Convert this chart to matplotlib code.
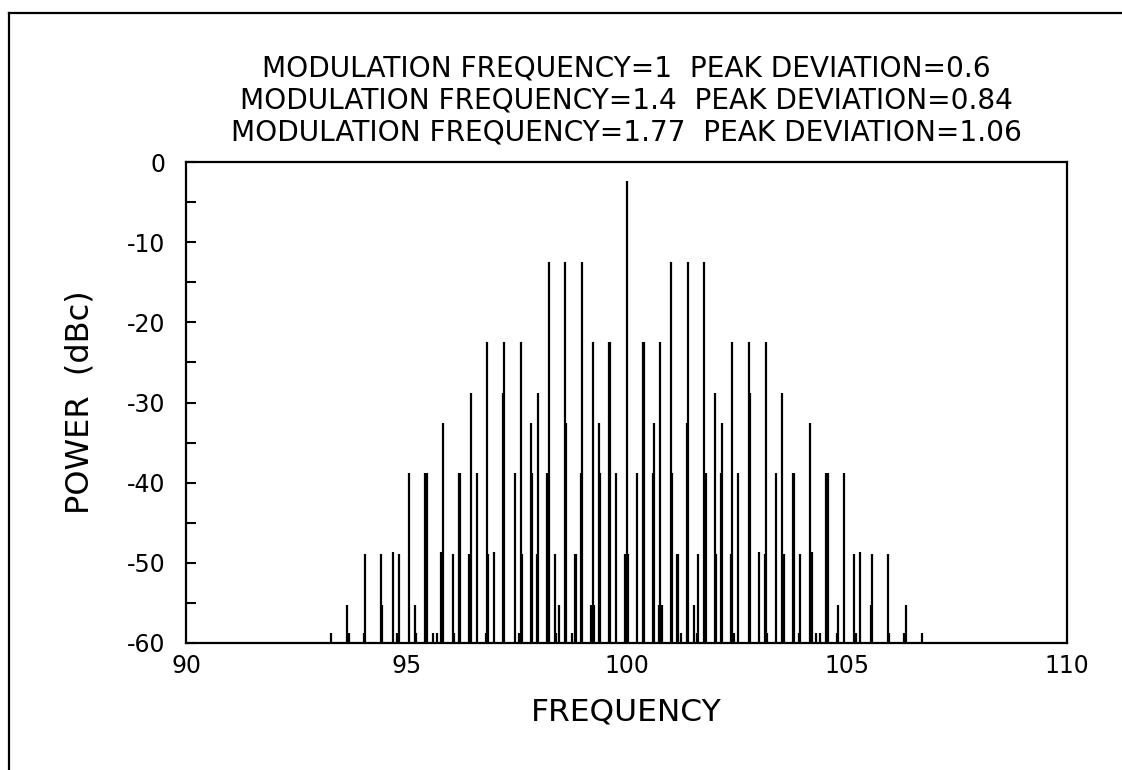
import matplotlib
matplotlib.use("Agg")
import matplotlib.pyplot as plt
from matplotlib.lines import Line2D
from matplotlib.ticker import MultipleLocator

# ---- data: spectral line frequencies grouped by their power level (dBc) ----
level_carrier = -2.4
freq_carrier = [100.0]

level_1 = -12.45
freq_1 = [98.23, 98.6, 99.0, 101.0, 101.4, 101.77]

level_2 = -22.5
freq_2 = [96.83, 97.23, 97.6, 99.23, 99.6, 99.63,
          100.37, 100.4, 100.77, 102.4, 102.77, 103.17]

level_3 = -28.8
freq_3 = [96.46, 97.2, 98.0, 102.0, 102.8, 103.54]

level_4 = -32.55
freq_4 = [95.83, 97.83, 98.63, 99.37, 100.63, 101.37, 102.17, 104.17]

level_5 = -38.85
freq_5 = [95.06, 95.43, 95.46, 96.2, 96.23, 96.6, 97.46, 97.86, 98.2, 98.97,
          99.4, 99.77, 100.23, 100.6, 101.03, 101.8, 102.14, 102.54, 103.4,
          103.77, 103.8, 104.54, 104.57, 104.94]

level_6 = -48.65
freq_6 = [94.69, 95.8, 97.0, 103.0, 104.2, 105.31]

level_7 = -48.9
freq_7 = [94.06, 94.43, 94.83, 96.06, 96.43, 96.86, 97.63, 97.97, 98.37, 98.83,
          98.86, 99.97, 100.03, 101.14, 101.17, 101.63, 102.03, 102.37, 103.14,
          103.57, 103.94, 105.17, 105.57, 105.94]

level_8 = -55.2
freq_8 = [93.66, 94.46, 95.2, 98.46, 99.2, 99.26, 100.74, 100.8, 101.54,
          104.8, 105.54, 106.34]

level_9 = -58.7
freq_9 = [93.29, 93.69, 94.03, 94.8, 95.23, 95.6, 95.69, 96.09, 96.8, 97.57,
          98.4, 98.77, 101.23, 101.6, 102.43, 103.2, 103.91, 104.31, 104.4,
          104.77, 105.2, 105.97, 106.31, 106.71]

levels = [level_carrier, level_1, level_2, level_3, level_4,
          level_5, level_6, level_7, level_8, level_9]
freq_groups = [freq_carrier, freq_1, freq_2, freq_3, freq_4,
               freq_5, freq_6, freq_7, freq_8, freq_9]

xticks = [90, 95, 100, 105, 110]
yticks = [0, -10, -20, -30, -40, -50, -60]
title_lines = ["MODULATION FREQUENCY=1  PEAK DEVIATION=0.6",
               "MODULATION FREQUENCY=1.4  PEAK DEVIATION=0.84",
               "MODULATION FREQUENCY=1.77  PEAK DEVIATION=1.06"]

# ---- figure ----
plt.rcParams['font.family'] = ['DejaVu Sans']
fig = plt.figure(figsize=(11.22, 7.70), dpi=100)
W, H = 1122, 770
ax = fig.add_axes([186 / W, 1 - 643 / H, (1067 - 186) / W, (643 - 162) / H])

base = -60
for lev, fr in zip(levels, freq_groups):
    ax.vlines(fr, base, lev, colors='black', linewidth=1.6)

ax.set_xlim(90, 110)
ax.set_ylim(-60, 0)
ax.set_xticks(xticks)
ax.set_xticklabels([str(t) for t in xticks])
ax.set_yticks(yticks)
ax.set_yticklabels([str(t) for t in yticks])
ax.yaxis.set_minor_locator(MultipleLocator(5))
ax.tick_params(axis='x', length=0, pad=8, labelsize=17)
ax.tick_params(axis='y', which='both', direction='in', length=7.5, width=1.5,
               pad=15, labelsize=17)
for s in ax.spines.values():
    s.set_linewidth(1.6)

ax.set_xlabel("FREQUENCY", fontsize=22.5, labelpad=14)
ax.set_ylabel("POWER  (dBc)", fontsize=23, labelpad=22)

# three-line title centered over axes
cx = (186 + 1067) / 2 / W
for i, line in enumerate(title_lines):
    fig.text(cx, 1 - (69 + 32 * i) / H, line, ha='center', va='center',
             fontsize=20.2)

# outer frame (left and top edges)
fig.add_artist(Line2D([8.5 / W, 8.5 / W], [0, 1 - 12.5 / H],
                      transform=fig.transFigure, color='black', linewidth=1.6))
fig.add_artist(Line2D([8.5 / W, 1.0], [1 - 12.5 / H, 1 - 12.5 / H],
                      transform=fig.transFigure, color='black', linewidth=1.6))

fig.savefig("out.png", dpi=100)
